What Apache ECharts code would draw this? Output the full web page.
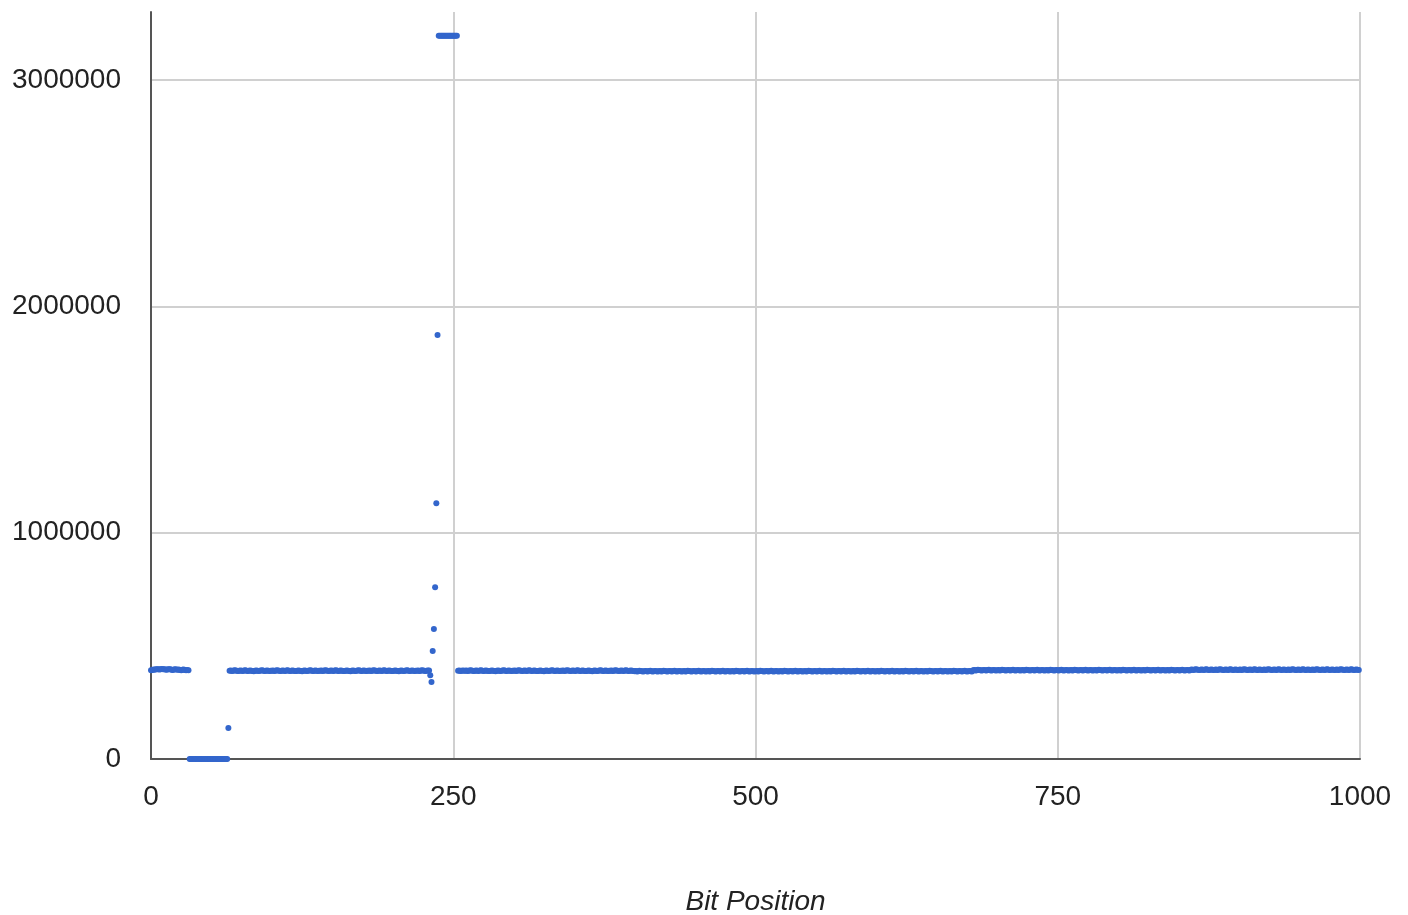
<!DOCTYPE html>
<html>
<head>
<meta charset="utf-8">
<script src="https://cdn.jsdelivr.net/npm/echarts@6/dist/echarts.min.js"></script>
<style>
html,body{margin:0;padding:0;background:#fff;}
#chart{width:1408px;height:915px;}
</style>
</head>
<body>
<div id="chart"></div>
<script>
// Bit positions start at 0; values[i] is the value at bit position i.
const bitPositionStart = 0;
const values = [
392000,393000,395000,394000,396000,397000,396000,395000,396000,398000,397000,396000,395000,394000,396000,397000,396000,394000,393000,395000,
396000,395000,394000,395000,393000,392000,394000,395000,393000,392000,393000,392000,0,0,0,0,0,0,0,0,
0,0,0,0,0,0,0,0,0,0,0,0,0,0,0,0,0,0,0,0,
0,0,0,0,137000,390000,391000,389000,390000,392000,391000,390000,389000,390000,391000,390000,389000,391000,392000,390000,
389000,390000,391000,390000,389000,388000,390000,391000,390000,389000,390000,391000,392000,390000,389000,390000,391000,390000,389000,390000,
390000,391000,389000,390000,392000,391000,390000,389000,390000,391000,390000,389000,391000,392000,390000,389000,390000,391000,390000,389000,
389000,390000,391000,390000,389000,388000,390000,391000,390000,389000,390000,391000,392000,390000,389000,390000,391000,390000,389000,390000,
390000,391000,389000,390000,392000,391000,390000,389000,390000,391000,390000,389000,391000,392000,390000,389000,390000,391000,390000,389000,
389000,390000,391000,390000,389000,388000,390000,391000,390000,389000,390000,391000,392000,390000,389000,390000,391000,390000,389000,390000,
390000,391000,389000,390000,392000,391000,390000,389000,390000,391000,390000,389000,391000,392000,390000,389000,390000,391000,390000,389000,
389000,390000,391000,390000,389000,388000,390000,391000,390000,389000,390000,391000,392000,390000,389000,390000,391000,390000,389000,390000,
390000,391000,389000,390000,392000,391000,390000,389000,390000,391000,391000,370000,340000,477000,574000,759000,1130000,1873000,3195000,3195000,
3195000,3195000,3195000,3195000,3195000,3195000,3195000,3195000,3195000,3195000,3195000,3195000,3195000,3195000,390000,391000,389000,390000,391000,390000,
390000,391000,389000,390000,392000,391000,390000,389000,390000,391000,390000,389000,391000,392000,390000,389000,390000,391000,390000,389000,
389000,390000,391000,390000,389000,388000,390000,391000,390000,389000,390000,391000,392000,390000,389000,390000,391000,390000,389000,390000,
390000,391000,389000,390000,392000,391000,390000,389000,390000,391000,390000,389000,391000,392000,390000,389000,390000,391000,390000,389000,
389000,390000,391000,390000,389000,388000,390000,391000,390000,389000,390000,391000,392000,390000,389000,390000,391000,390000,389000,390000,
390000,391000,389000,390000,392000,391000,390000,389000,390000,391000,390000,389000,391000,392000,390000,389000,390000,391000,390000,389000,
389000,390000,391000,390000,389000,388000,390000,391000,390000,389000,390000,391000,392000,390000,389000,390000,391000,390000,389000,390000,
390000,391000,389000,390000,392000,391000,390000,389000,390000,391000,390000,389000,391000,392000,390000,389000,390000,391000,390000,389000,
388000,389000,387000,388000,390000,389000,388000,387000,388000,389000,388000,387000,389000,390000,388000,387000,388000,389000,388000,387000,
388000,389000,387000,388000,390000,389000,388000,387000,388000,389000,388000,387000,389000,390000,388000,387000,388000,389000,388000,387000,
388000,389000,387000,388000,390000,389000,388000,387000,388000,389000,388000,387000,389000,390000,388000,387000,388000,389000,388000,387000,
388000,389000,387000,388000,390000,389000,388000,387000,388000,389000,388000,387000,389000,390000,388000,387000,388000,389000,388000,387000,
388000,389000,387000,388000,390000,389000,388000,387000,388000,389000,388000,387000,389000,390000,388000,387000,388000,389000,388000,387000,
388000,389000,387000,388000,390000,389000,388000,387000,388000,389000,388000,387000,389000,390000,388000,387000,388000,389000,388000,387000,
388000,389000,387000,388000,390000,389000,388000,387000,388000,389000,388000,387000,389000,390000,388000,387000,388000,389000,388000,387000,
388000,389000,387000,388000,390000,389000,388000,387000,388000,389000,388000,387000,389000,390000,388000,387000,388000,389000,388000,387000,
388000,389000,387000,388000,390000,389000,388000,387000,388000,389000,388000,387000,389000,390000,388000,387000,388000,389000,388000,387000,
388000,389000,387000,388000,390000,389000,388000,387000,388000,389000,388000,387000,389000,390000,388000,387000,388000,389000,388000,387000,
388000,389000,387000,388000,390000,389000,388000,387000,388000,389000,388000,387000,389000,390000,388000,387000,388000,389000,388000,387000,
388000,389000,387000,388000,390000,389000,388000,387000,388000,389000,388000,387000,389000,390000,388000,387000,388000,389000,388000,387000,
388000,389000,387000,388000,390000,389000,388000,387000,388000,389000,388000,387000,389000,390000,388000,387000,388000,389000,388000,387000,
388000,389000,387000,388000,390000,389000,388000,387000,388000,389000,388000,387000,389000,390000,388000,387000,388000,389000,388000,387000,
392000,393000,391000,392000,394000,393000,392000,391000,392000,393000,392000,391000,393000,394000,392000,391000,392000,393000,392000,391000,
392000,393000,391000,392000,394000,393000,392000,391000,392000,393000,392000,391000,393000,394000,392000,391000,392000,393000,392000,391000,
392000,393000,391000,392000,394000,393000,392000,391000,392000,393000,392000,391000,393000,394000,392000,391000,392000,393000,392000,391000,
392000,393000,391000,392000,394000,393000,392000,391000,392000,393000,392000,391000,393000,394000,392000,391000,392000,393000,392000,391000,
392000,393000,391000,392000,394000,393000,392000,391000,392000,393000,392000,391000,393000,394000,392000,391000,392000,393000,392000,391000,
392000,393000,391000,392000,394000,393000,392000,391000,392000,393000,392000,391000,393000,394000,392000,391000,392000,393000,392000,391000,
392000,393000,391000,392000,394000,393000,392000,391000,392000,393000,392000,391000,393000,394000,392000,391000,392000,393000,392000,391000,
392000,393000,391000,392000,394000,393000,392000,391000,392000,393000,392000,391000,393000,394000,392000,391000,392000,393000,392000,391000,
392000,393000,391000,392000,394000,393000,392000,391000,392000,393000,392000,391000,393000,394000,392000,391000,392000,393000,392000,391000,
394000,395000,393000,394000,396000,395000,394000,393000,394000,395000,394000,393000,395000,396000,394000,393000,394000,395000,394000,393000,
394000,395000,393000,394000,396000,395000,394000,393000,394000,395000,394000,393000,395000,396000,394000,393000,394000,395000,394000,393000,
394000,395000,393000,394000,396000,395000,394000,393000,394000,395000,394000,393000,395000,396000,394000,393000,394000,395000,394000,393000,
394000,395000,393000,394000,396000,395000,394000,393000,394000,395000,394000,393000,395000,396000,394000,393000,394000,395000,394000,393000,
394000,395000,393000,394000,396000,395000,394000,393000,394000,395000,394000,393000,395000,396000,394000,393000,394000,395000,394000,393000,
394000,395000,393000,394000,396000,395000,394000,393000,394000,395000,394000,393000,395000,396000,394000,393000,394000,395000,394000,393000,
394000,395000,393000,394000,396000,395000,394000,393000,394000,395000,394000,393000,395000,396000,394000,393000,394000,395000,394000,393000
];
const xTickLabels = [0, 250, 500, 750, 1000];
const yTickLabels = [0, 1000000, 2000000, 3000000];
const xAxisTitle = 'Bit Position';

const points = values.map((v, i) => [bitPositionStart + i, v]);

const chart = echarts.init(document.getElementById('chart'), null, {renderer: 'canvas'});
const font = "'Liberation Sans', Arial, sans-serif";
chart.setOption({
  animation: false,
  backgroundColor: '#ffffff',
  grid: {left: 151, right: 48, top: 12, bottom: 156, containLabel: false, outerBoundsMode: 'none'},
  xAxis: {
    type: 'value',
    min: xTickLabels[0],
    max: xTickLabels[xTickLabels.length - 1],
    interval: xTickLabels[1] - xTickLabels[0],
    name: xAxisTitle,
    nameLocation: 'middle',
    nameGap: 129,
    nameTextStyle: {fontFamily: font, fontStyle: 'italic', fontSize: 28, color: '#222'},
    axisLine: {show: true, onZero: false, lineStyle: {color: '#555', width: 2}},
    axisTick: {show: false},
    axisLabel: {fontFamily: font, fontSize: 28, color: '#222', margin: 24, formatter: v => String(v)},
    splitLine: {show: true, showMinLine: false, lineStyle: {color: '#d0d0d0', width: 2}}
  },
  yAxis: {
    type: 'value',
    min: 0,
    max: 3300000,
    interval: yTickLabels[1] - yTickLabels[0],
    axisLine: {show: true, onZero: false, lineStyle: {color: '#555', width: 2}},
    axisTick: {show: false},
    axisLabel: {fontFamily: font, fontSize: 28, color: '#222', margin: 30, showMaxLabel: false, formatter: v => String(v)},
    splitLine: {show: true, showMinLine: false, showMaxLine: false, lineStyle: {color: '#d0d0d0', width: 2}}
  },
  series: [{
    type: 'scatter',
    data: points,
    symbol: 'circle',
    symbolSize: 6,
    itemStyle: {color: '#3366cc', opacity: 1},
    large: false
  }]
});
</script>
</body>
</html>
